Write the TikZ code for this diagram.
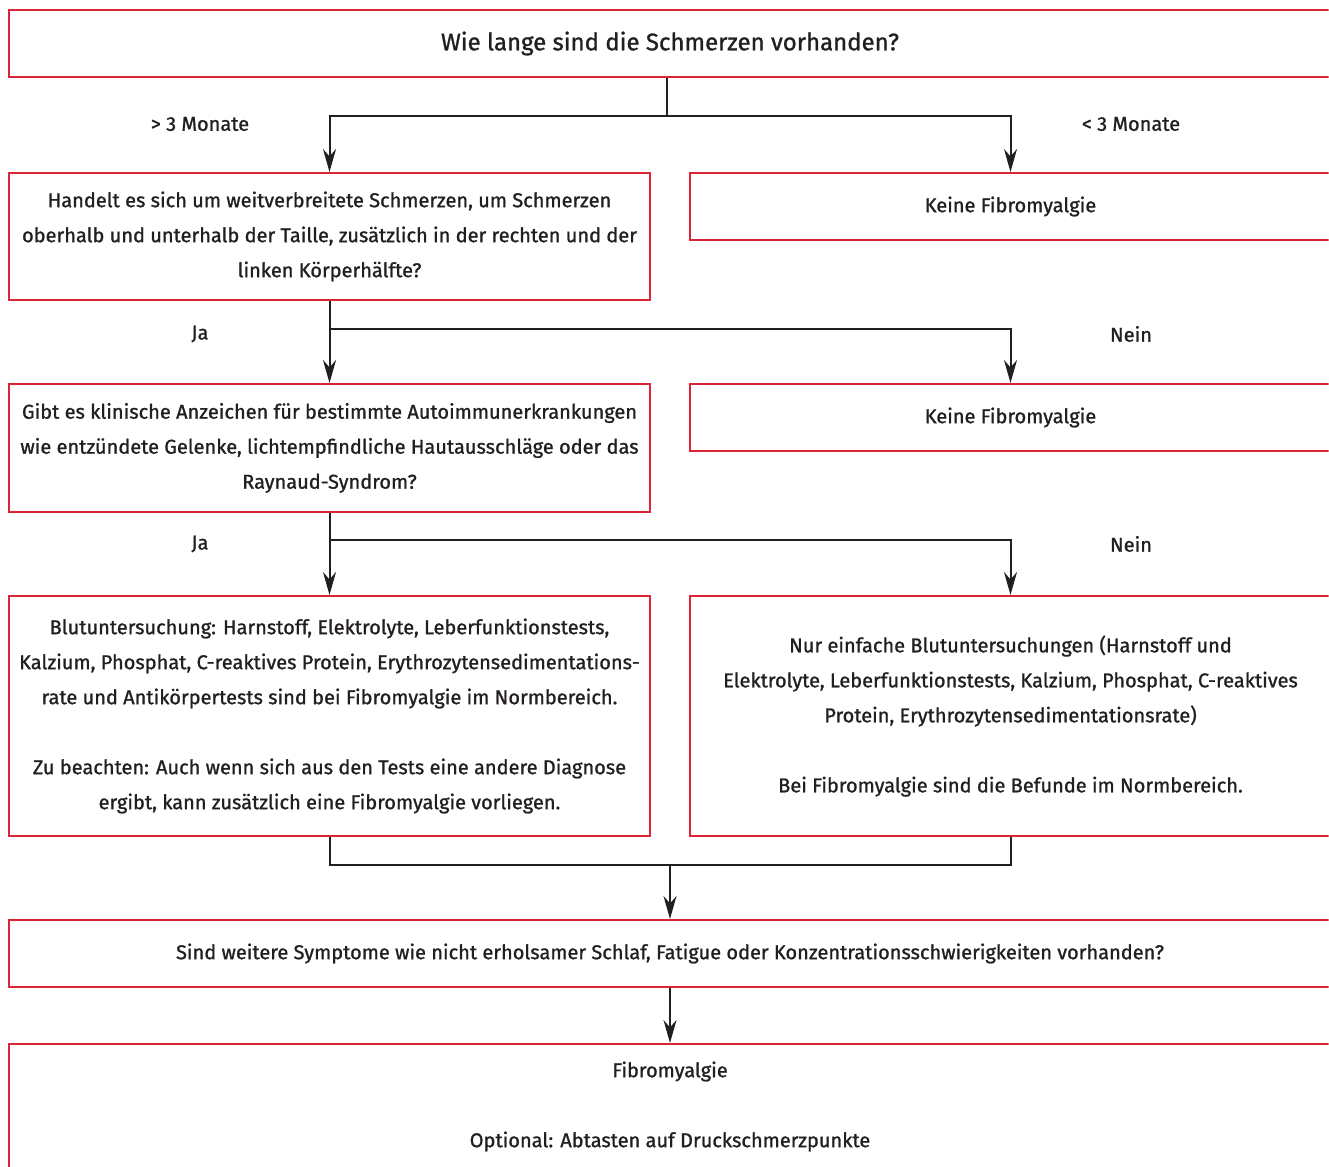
\documentclass[tikz,border=0pt]{standalone}
\usepackage{fontspec}
\setmainfont{Fira Sans}[FakeBold=1.1]
\usetikzlibrary{positioning,arrows.meta,calc}
\definecolor{boxred}{RGB}{218,37,55}
\definecolor{txtdark}{RGB}{35,31,32}

\begin{document}
\begin{tikzpicture}[x=0.5pt,y=-0.5pt,>={Stealth[length=11.5pt,width=6.5pt]},
  font=\fontsize{10}{17.5}\selectfont,text=txtdark,
  box/.style={draw=boxred,line width=1pt,align=center,inner sep=0pt,anchor=north west},
  lbox/.style={box,minimum width=320.5pt},
  rbox/.style={box,minimum width=320.5pt},
  wbox/.style={box,minimum width=661pt},
  lbl/.style={inner sep=0pt},
  conn/.style={draw=txtdark,line width=1pt}]
  \useasboundingbox (0,0) rectangle (1329,1167);
  \clip (0,0) rectangle (1328.5,1167);
  \node[wbox,minimum height=33.5pt,font=\fontsize{12}{17.5}\selectfont] (dauer) at (8,9)
    {Wie lange sind die Schmerzen vorhanden?};
  \node[lbl] (gt3) at (200,124) {> 3 Monate};
  \node[lbl] (lt3) at (1131,124) {< 3 Monate};
  \node[lbox,minimum height=63.5pt] (breit) at (8,172)
    {Handelt es sich um weitverbreitete Schmerzen, um Schmerzen\\
     oberhalb und unterhalb der Taille, zusätzlich in der rechten und der\\
     linken Körperhälfte?};
  \node[rbox,minimum height=33.5pt] (kurz) at (689,172) {Keine Fibromyalgie};
  \draw[conn] (dauer.south -| 667,0) -- (667,116) coordinate (gabel1);
  \draw[conn,->] (gabel1) -| (breit.north);
  \draw[conn,->] (gabel1) -| (kurz.north);
  % zweite Frage
  \node[lbl] (ja1) at (200,334) {Ja};
  \node[lbl] (nein1) at (1131,334) {Nein};
  \node[lbox,minimum height=64pt] (auto) at (8,383)
    {Gibt es klinische Anzeichen für bestimmte Autoimmunerkrankungen\\
     wie entzündete Gelenke, lichtempfindliche Hautausschläge oder das\\
     Raynaud-Syndrom?};
  \node[rbox,minimum height=33.5pt] (keine2) at (689,383) {Keine Fibromyalgie};
  \draw[conn,->] (breit.south) -- (auto.north);
  \coordinate (gabel2) at ($(breit.south)+(0,28)$);
  \draw[conn,->] (gabel2) -| (keine2.north);
  % Blutuntersuchung
  \node[lbl] (ja2) at (200,544) {Ja};
  \node[lbl] (nein2) at (1131,544) {Nein};
  \node[lbox,minimum height=120pt] (blut1) at (8,595)
    {Blutuntersuchung: Harnstoff, Elektrolyte, Leberfunktionstests,\\
     Kalzium, Phosphat, C-reaktives Protein, Erythrozytensedimentations-\\
     rate und Antikörpertests sind bei Fibromyalgie im Normbereich.\\[17.5pt]
     Zu beachten: Auch wenn sich aus den Tests eine andere Diagnose\\
     ergibt, kann zusätzlich eine Fibromyalgie vorliegen.};
  \node[rbox,minimum height=120pt] (blut2) at (689,595)
    {Nur einfache Blutuntersuchungen (Harnstoff und\\
     Elektrolyte, Leberfunktionstests, Kalzium, Phosphat, C-reaktives\\
     Protein, Erythrozytensedimentationsrate)\\[17.5pt]
     Bei Fibromyalgie sind die Befunde im Normbereich.};
  \draw[conn,->] (auto.south) -- (blut1.north);
  \coordinate (gabel3) at ($(auto.south)+(0,27)$);
  \draw[conn,->] (gabel3) -| (blut2.north);
  % Zusammenfuehrung
  \node[wbox,minimum height=33.5pt] (weitere) at (8,919)
    {Sind weitere Symptome wie nicht erholsamer Schlaf, Fatigue oder Konzentrationsschwierigkeiten vorhanden?};
  \node[wbox,minimum height=62.5pt] (fibro) at (8,1043)
    {Fibromyalgie\\[17.5pt]Optional: Abtasten auf Druckschmerzpunkte};
  \draw[conn] (blut1.south) -- ++(0,28) -| (blut2.south);
  \coordinate (gabel4) at ($(blut1.south)!0.5!(blut2.south)+(0,28)$);
  \draw[conn,->] (gabel4) -- (gabel4 |- weitere.north);
  \draw[conn,->] (weitere.south) -- (fibro.north);
\end{tikzpicture}
\end{document}
